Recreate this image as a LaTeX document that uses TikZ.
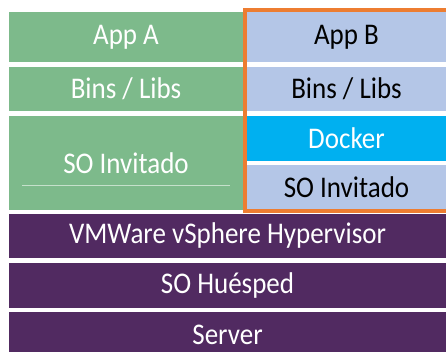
\documentclass[tikz,border=0pt]{standalone}
\usepackage{fontspec}
\setmainfont[FakeStretch=0.9]{Carlito}
\definecolor{appgreen}{HTML}{7DBA8B}
\definecolor{appblue}{HTML}{B4C6E7}
\definecolor{dockerblue}{HTML}{00B0F0}
\definecolor{basepurple}{HTML}{512A61}
\definecolor{frameorange}{HTML}{ED7D31}
\tikzset{
  cell/.style={anchor=north west, inner sep=0pt, outer sep=0pt, font=\fontsize{30}{30}\selectfont},
  vmcell/.style={cell, fill=appgreen, text=white, minimum width=234pt},
  ctcell/.style={cell, fill=appblue, text=black, minimum width=199pt},
  hostcell/.style={cell, fill=basepurple, text=white, minimum width=437pt}
}
\begin{document}
\begin{tikzpicture}[x=1pt,y=-1pt]
    \useasboundingbox (0,0) rectangle (446,352);
    % left column: virtual machine
    \node[vmcell, minimum height=50pt] (appa) at (9,12) {App A};
    \node[vmcell, minimum height=44pt] (binsa) at (9,67) {Bins / Libs};
    \node[vmcell, minimum height=94pt] (guesta) at (9,116) {SO Invitado};
    \draw[white!55!appgreen, line width=0.6pt] (22,185) -- (230,185);
    % right column: container
    \node[ctcell, minimum height=50pt] (appb) at (247,12) {App B};
    \node[ctcell, minimum height=44pt] (binsb) at (247,67) {Bins / Libs};
    \node[ctcell, fill=dockerblue, text=white, minimum height=45pt] (docker) at (247,116) {Docker};
    \node[ctcell, minimum height=45pt] (guestb) at (247,165) {SO Invitado};
    \draw[frameorange, line width=3.5pt] ([xshift=-2pt,yshift=2pt]appb.north west) rectangle ([xshift=6pt,yshift=-1pt]guestb.south east);
    % shared layers
    \node[hostcell, minimum height=44pt] (hyper) at (9,214) {VMWare vSphere Hypervisor};
    \node[hostcell, minimum height=45pt] (hostos) at (9,263) {SO Huésped};
    \node[hostcell, minimum height=45pt] (server) at (9,312) {Server};
\end{tikzpicture}
\end{document}
